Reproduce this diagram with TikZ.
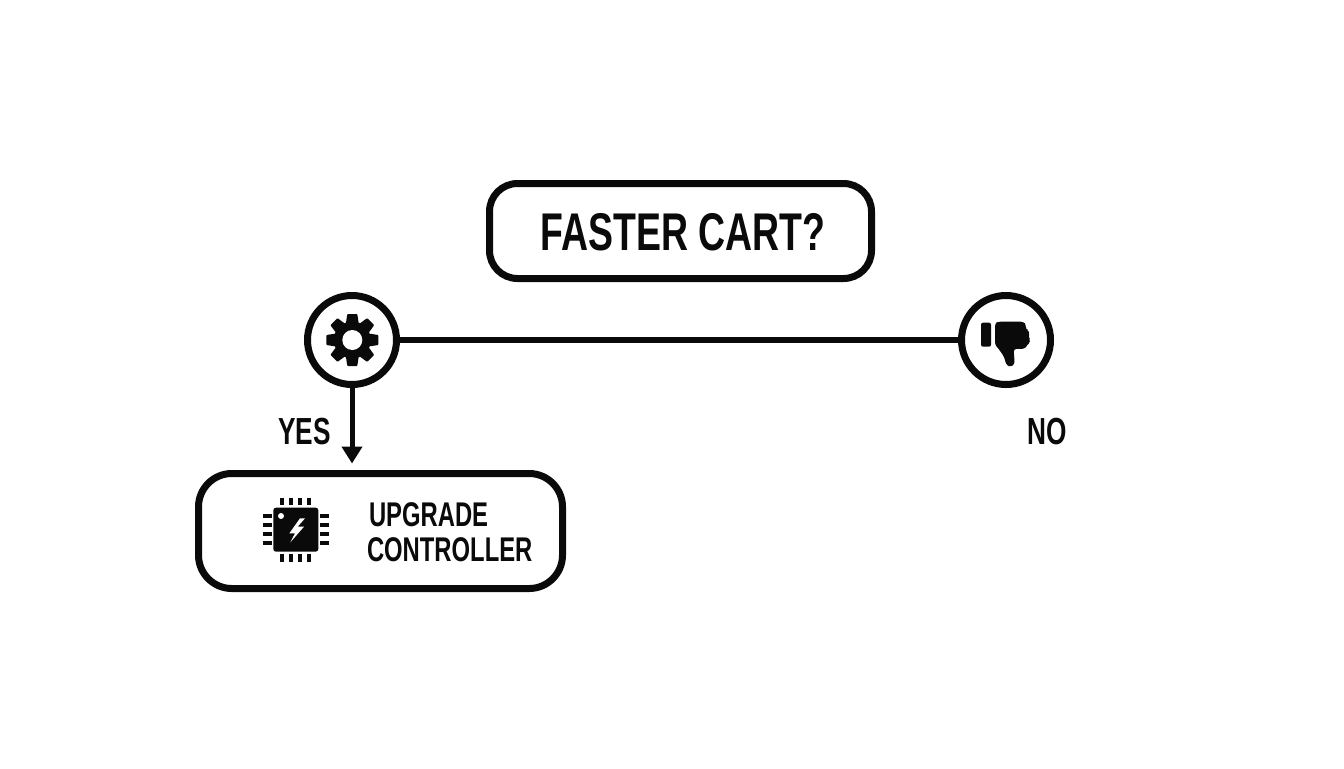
\documentclass[tikz,border=0pt]{standalone}
\usepackage{fontspec}
\usetikzlibrary{arrows.meta}
\setmainfont{Liberation Sans}
\newfontfamily\titlefont[FakeStretch=0.705]{Liberation Sans Bold}
\newfontfamily\labelfont[FakeStretch=0.695]{Liberation Sans Bold}
\definecolor{ink}{HTML}{0A0A0A}
\tikzset{
  px/.style={x=0.75pt,y=-0.75pt},
  zoomunit/.style={x=0.25pt,y=-0.25pt},
  rbox/.style={draw=ink,line width=5.25pt,inner sep=0pt,outer sep=0pt},
  ringnode/.style={circle,draw=ink,line width=5.25pt,minimum size=66.75pt,inner sep=0pt,outer sep=0pt,fill=white},
  link/.style={draw=ink,line width=3.9pt},
  arrowlink/.style={draw=ink,line width=3.75pt,-{Triangle[width=15pt,length=12.75pt]},shorten >=7.5pt},
  txt/.style={text=ink,inner sep=0pt,outer sep=0pt},
  icon/.style={fill=ink,draw=none}
}
\begin{document}
\begin{tikzpicture}[px]
\useasboundingbox (0,0) rectangle (1344,768);
\fill[white] (0,0) rectangle (1344,768);
% boxes
\node[rbox,rounded corners=21pt,minimum width=286.5pt,minimum height=71.25pt] (question) at (680.5,231) {};
\node[rbox,rounded corners=25pt,minimum width=273pt,minimum height=86.25pt] (action) at (380.5,531) {};
% rings
\node[ringnode] (gearring) at (352,340) {};
\node[ringnode] (thumbring) at (1006,340) {};
% connectors
\draw[link] (gearring) -- (thumbring);
\draw[arrowlink] (gearring.south) -- (gearring.south |- action.north);
% texts
\node[txt,font=\titlefont\fontsize{39.8}{42}\selectfont] (qtext) at (683,232) {FASTER CART?};
\node[txt,font=\labelfont\fontsize{28.3}{30}\selectfont] (yes) at (304.5,431.5) {YES};
\node[txt,font=\labelfont\fontsize{28.3}{30}\selectfont] (no) at (1047.5,431.5) {NO};
\node[txt,anchor=west,align=left,font=\labelfont\fontsize{25.7}{26.6}\selectfont] (atext) at (367,532) {\hspace*{1.5pt}UPGRADE\\CONTROLLER};
% gear icon
\begin{scope}[shift={(352.3,340)}]
  \foreach \a in {0,45,...,315}{
    \fill[ink,rotate=\a,rounded corners=0.6pt] (-6.5,-16) -- (-5,-26) -- (5,-26) -- (6.5,-16) -- cycle;
  }
  \fill[ink] (0,0) circle[radius=18.5];
  \fill[white] (0,0) circle[radius=10];
\end{scope}
% thumb-down icon
\begin{scope}[shift={(945,280)},zoomunit]
  \fill[ink,rounded corners=1.5pt] (108,128) rectangle (138,200);
  \fill[ink,rounded corners=2pt] (150,130) -- (160,125) -- (235,125) -- (244,135) -- (241,148) -- (251,150) -- (253,163) -- (249,170) -- (256,178) -- (253,190) -- (245,195) -- (241,206) -- (206,207) -- (209,252) -- (197,261) -- (184,255) -- (177,230) -- (160,205) -- (150,195) -- cycle;
\end{scope}
% chip icon
\begin{scope}[shift={(250,485)},zoomunit]
  \fill[ink,rounded corners=2pt] (70,68) rectangle (205,200);
  \fill[white] (93,93) circle[radius=9];
  \fill[white] (150,100) -- (118,145) -- (135,145) -- (121,172) -- (162,125) -- (143,125) -- (165,100) -- cycle;
  \foreach \p in {97,123,150,177}{
    \fill[ink] (\p-6,38) rectangle (\p+6,61);
    \fill[ink] (\p-6,207) rectangle (\p+6,232);
  }
  \foreach \p in {92,120,147,174}{
    \fill[ink] (38,\p-5.5) rectangle (65,\p+5.5);
    \fill[ink] (210,\p-5.5) rectangle (238,\p+5.5);
  }
\end{scope}
\end{tikzpicture}
\end{document}
